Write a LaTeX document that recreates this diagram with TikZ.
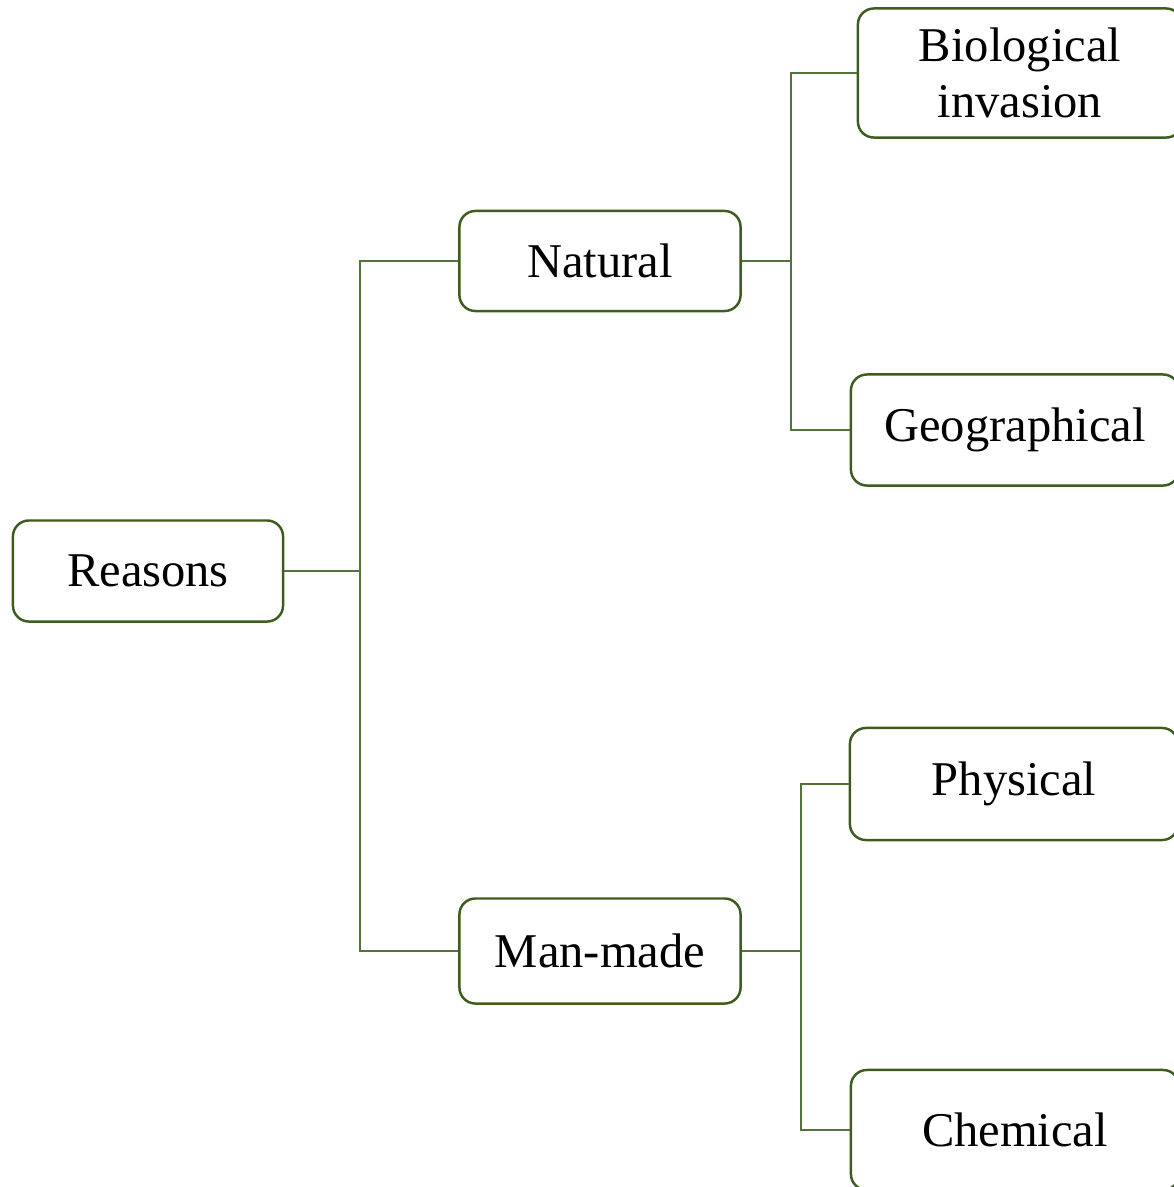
\documentclass[tikz,border=0pt]{standalone}
\usepackage{fontspec}
\setmainfont{Liberation Serif}
\definecolor{boxgreen}{HTML}{3D5C1E}
\definecolor{linegreen}{HTML}{52733A}
\tikzset{
  reason/.style={draw=boxgreen, line width=0.7pt, rounded corners=0.16cm, fill=white,
    align=center, inner sep=0pt, font=\fontsize{13.8}{16}\selectfont},
  link/.style={draw=linegreen, line width=0.4pt}
}
\begin{document}
\begin{tikzpicture}[x=0.01cm,y=-0.01cm]
\clip (0,0) rectangle (1174,1187);
\useasboundingbox (0,0) rectangle (1174,1187);

\node[reason, minimum width=2.70cm, minimum height=1.01cm] (reasons) at (148,571) {Reasons};
\node[reason, minimum width=2.81cm, minimum height=1.00cm] (natural) at (600,261) {Natural};
\node[reason, minimum width=2.81cm, minimum height=1.05cm] (manmade) at (600,951) {Man-made};

\node[reason, minimum width=3.24cm, minimum height=1.29cm] (bio) at (1020,73) {Biological\\invasion};
\node[reason, minimum width=3.28cm, minimum height=1.11cm] (geo) at (1015,430) {Geographical};
\node[reason, minimum width=3.28cm, minimum height=1.12cm] (phys) at (1014,784) {Physical};
\node[reason, minimum width=3.28cm, minimum height=1.20cm] (chem) at (1015,1130) {Chemical};

\coordinate (j1) at (360,571);
\coordinate (j2) at (791,261);
\coordinate (j3) at (801,951);

\draw[link] (reasons.east) -- (j1);
\draw[link] (natural.west) -| (j1);
\draw[link] (manmade.west) -| (j1);

\draw[link] (natural.east) -- (j2);
\draw[link] (bio.west) -| (j2);
\draw[link] (geo.west) -| (j2);

\draw[link] (manmade.east) -- (j3);
\draw[link] (phys.west) -| (j3);
\draw[link] (chem.west) -| (j3);

\end{tikzpicture}
\end{document}
